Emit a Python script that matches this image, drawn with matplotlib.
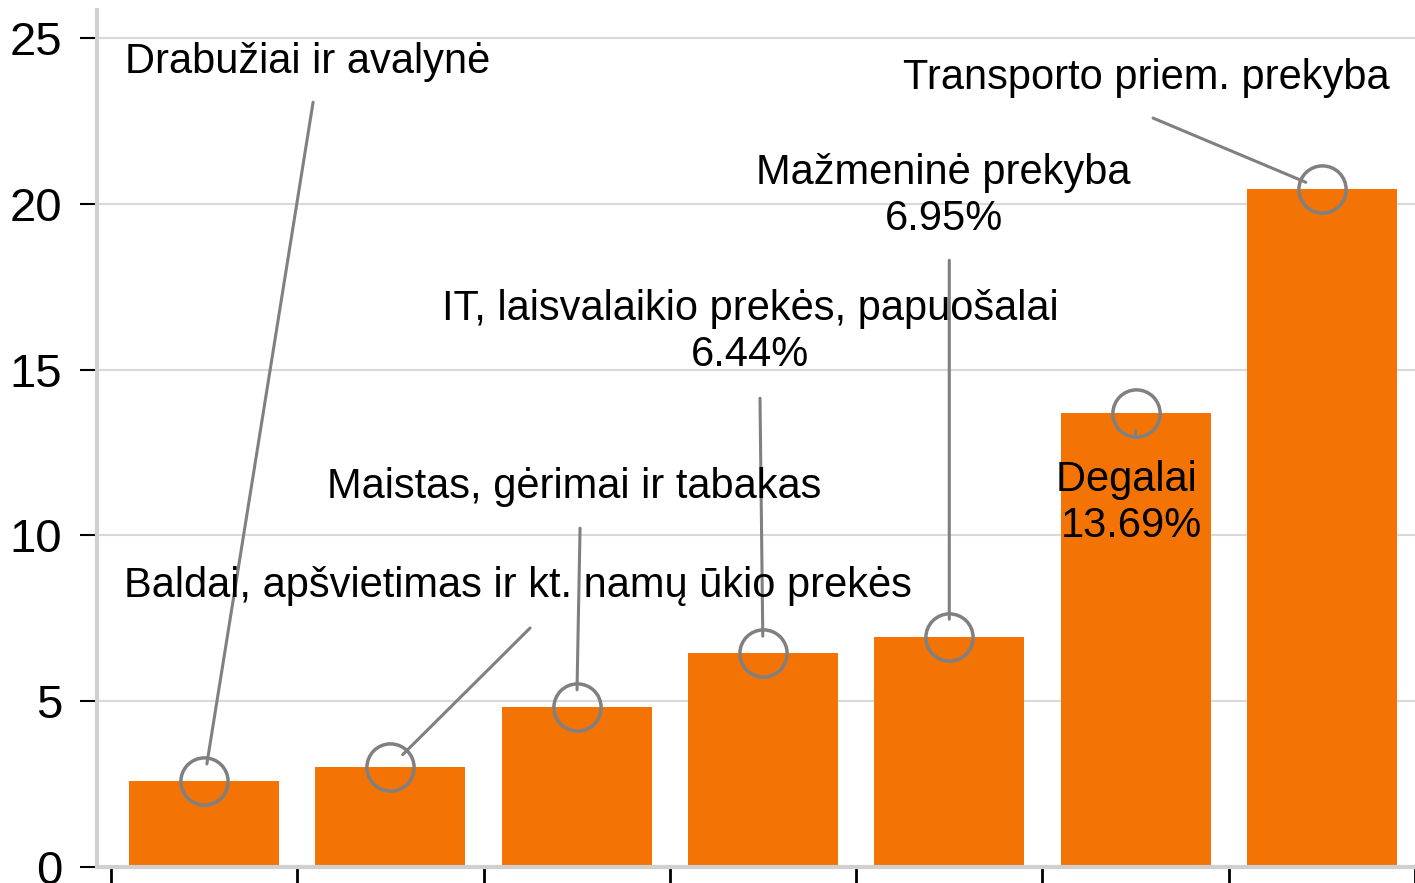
import matplotlib
matplotlib.use("Agg")
import matplotlib.pyplot as plt
import numpy as np

plt.rcParams['font.family'] = ['Liberation Sans', 'DejaVu Sans']

categories = ["Drabužiai ir avalynė",
              "Baldai, apšvietimas ir kt. namų ūkio prekės",
              "Maistas, gėrimai ir tabakas",
              "IT, laisvalaikio prekės, papuošalai",
              "Mažmeninė prekyba",
              "Degalai",
              "Transporto priem. prekyba"]
values = [2.59, 3.02, 4.82, 6.44, 6.95, 13.69, 20.45]
labels = ["Drabužiai ir avalynė",
          "Baldai, apšvietimas ir kt. namų ūkio prekės",
          "Maistas, gėrimai ir tabakas",
          "IT, laisvalaikio prekės, papuošalai\n6.44%",
          "Mažmeninė prekyba\n6.95%",
          "Degalai \n13.69%",
          "Transporto priem. prekyba"]
yticks = [0, 5, 10, 15, 20, 25]

# layout: label centre positions and leader-line start points (data coords)
label_pos = [(0.553, 24.28), (1.685, 8.47), (1.986, 11.46), (2.93, 16.13),
             (3.97, 20.25), (4.98, 10.98), (5.06, 23.79)]
line_start = [(0.585, 23.07), (1.75, 7.21), (2.018, 10.22), (2.984, 14.14),
              (4.0, 18.3), (5.0, 12.97), (5.094, 22.59)]

fig = plt.figure(figsize=(14.15, 8.83), dpi=100)
ax = fig.add_axes([97/1415, 1 - 867/883, (1415 - 97)/1415, (867 - 10)/883])

x = np.arange(len(values))
ax.bar(x, values, width=0.805, color='#F37404', zorder=2)

ax.set_xlim(-0.575, 6.5)
ax.set_ylim(0, 25.85)
ax.set_yticks(yticks)
ax.set_yticklabels([str(t) for t in yticks], fontsize=34)
ax.set_xticks(np.arange(-0.5, 6.6, 1.0))
ax.set_xticklabels([])
ax.tick_params(axis='y', length=12, width=1.5, color='black', pad=13)
ax.tick_params(axis='x', length=12, width=2, color='black')
ax.grid(axis='y', color='#d9d9d9', linewidth=1.5, zorder=0)
ax.set_axisbelow(True)
for s in ['top', 'right']:
    ax.spines[s].set_visible(False)
for s in ['left', 'bottom']:
    ax.spines[s].set_color('#d0d0d0')
    ax.spines[s].set_linewidth(3)

for i, v in enumerate(values):
    ax.plot(i, v, marker='o', markersize=34, markerfacecolor='none',
            markeredgecolor='#808080', markeredgewidth=2.5, zorder=4)
    ax.annotate('', xy=(i, v), xytext=line_start[i],
                arrowprops=dict(arrowstyle='-', color='#808080', lw=2.2,
                                shrinkA=0, shrinkB=12.5), zorder=3)
    ax.text(label_pos[i][0], label_pos[i][1], labels[i], fontsize=30,
            ha='center', va='center', multialignment='center', zorder=5,
            linespacing=1.2)

fig.savefig('out.png', dpi=100)
